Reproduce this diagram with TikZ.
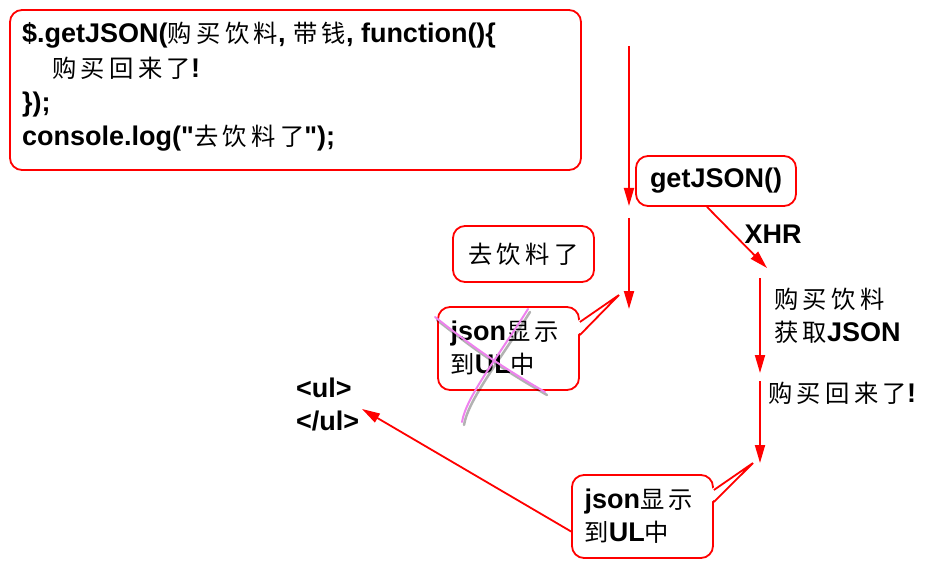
\documentclass[tikz,border=0pt]{standalone}
\usepackage{fontspec}
\usepackage{tikz}
\setmainfont{Liberation Sans}[Ligatures=TeXOff]
\newfontfamily\cjk[Scale=0.9,LetterSpace=18]{Noto Sans CJK SC}
\newcommand\zh[1]{{\cjk\mdseries #1}}
\usetikzlibrary{arrows.meta, positioning, calc}
\definecolor{crossviolet}{RGB}{238,130,238}

\begin{document}
\begin{tikzpicture}[
        x=1pt, y=-1pt,
        every node/.style={
            font=\fontsize{27}{33}\selectfont\bfseries
        },
        box/.style={
            rectangle,
            draw=red,
            line width=1.8pt,
            rounded corners=12pt,
            fill=white,
            inner sep=0pt
        },
        plain/.style={
            inner sep=0pt,
            align=left
        },
        flow/.style={
            draw=red,
            line width=1.8pt,
            -{Triangle[length=18pt, width=10pt]}
        },
        pointer/.style={
            draw=red,
            line width=1.8pt,
            line join=miter
        },
        cross/.style={
            draw=crossviolet,
            line width=2pt,
            line cap=round
        },
        crossshadow/.style={
            draw=black,
            opacity=0.3,
            line width=2.5pt,
            line cap=round
        }
    ]
    \useasboundingbox (0,0) rectangle (946,567);

    % Nodes
    \node[box, minimum width=571pt, minimum height=160pt] (code) at (295.5,90) {};
    \node[plain, anchor=base west] (line1) at (22,43) {\$.getJSON(\zh{购买饮料}, \zh{带钱}, function()\{};
    \node[plain, anchor=base west] (line2) at (52,78) {\zh{购买回来了}!};
    \node[plain, anchor=base west] (line3) at (22,112) {\});};
    \node[plain, anchor=base west] (line4) at (22,146) {console.log("\zh{去饮料了}");};

    \node[box, minimum width=160pt, minimum height=50pt] (getjson) at (716,181) {getJSON()};
    \node[plain] (xhr) at (773,234) {XHR};
    \node[plain, anchor=west] (fetch) at (774,316) {\zh{购买饮料}\\\zh{获取}JSON};
    \node[plain, anchor=west] (back) at (768,393) {\zh{购买回来了}!};

    \node[box, minimum width=141pt, minimum height=56pt] (quyin) at (523.5,254) {\zh{去饮料了}};
    \node[box, minimum width=141pt, minimum height=83pt, text width=116pt, align=left] (upcall) at (508.5,348.5) {json\zh{显示}\\\zh{到}UL\zh{中}};
    \node[box, minimum width=141pt, minimum height=83pt, text width=116pt, align=left] (lowcall) at (642.5,516.5) {json\zh{显示}\\\zh{到}UL\zh{中}};
    \node[plain, anchor=west] (ul) at (296,404) {<ul>\\</ul>};

    % Free ends
    \coordinate (a1s) at (629,46);
    \coordinate (a1e) at (629,206);
    \coordinate (a2s) at (629,218);
    \coordinate (a2e) at (629,309);
    \coordinate (xhre) at (767,268);
    \coordinate (r1s) at (760,278);
    \coordinate (r1e) at (760,373);
    \coordinate (r2s) at (760,381);
    \coordinate (r2e) at (760,463);
    \coordinate (ulend) at (362,409);
    \coordinate (uptip) at (619,295);
    \coordinate (lowtip) at (753,463);

    % Arrows
    \path[flow] (a1s) -- (a1e);
    \path[flow] (a2s) -- (a2e);
    \path[flow] ([xshift=-9pt]getjson.south) -- (xhre);
    \path[flow] (r1s) -- (r1e);
    \path[flow] (r2s) -- (r2e);
    \path[flow] ([yshift=-15pt]lowcall.west) -- (ulend);

    % Callout pointers
    \fill[white] ([shift={(-3pt,27pt)}]upcall.east) -- (uptip) -- ([shift={(-3pt,13pt)}]upcall.east) -- cycle;
    \path[pointer] ([yshift=26.5pt]upcall.east) -- (uptip) -- ([yshift=13.5pt]upcall.east);
    \fill[white] ([shift={(-3pt,27pt)}]lowcall.east) -- (lowtip) -- ([shift={(-3pt,14pt)}]lowcall.east) -- cycle;
    \path[pointer] ([yshift=26.5pt]lowcall.east) -- (lowtip) -- ([yshift=14.5pt]lowcall.east);

    % Cross over the first callout
    \draw[crossshadow] (437,320) to[bend right=4] (547,395);
    \draw[crossshadow] (530,312) .. controls (500,360) and (468,400) .. (464,425);
    \draw[cross] (435,317) to[bend right=4] (545,392);
    \draw[cross] (528,309) .. controls (498,357) and (466,397) .. (462,422);
\end{tikzpicture}
\end{document}
